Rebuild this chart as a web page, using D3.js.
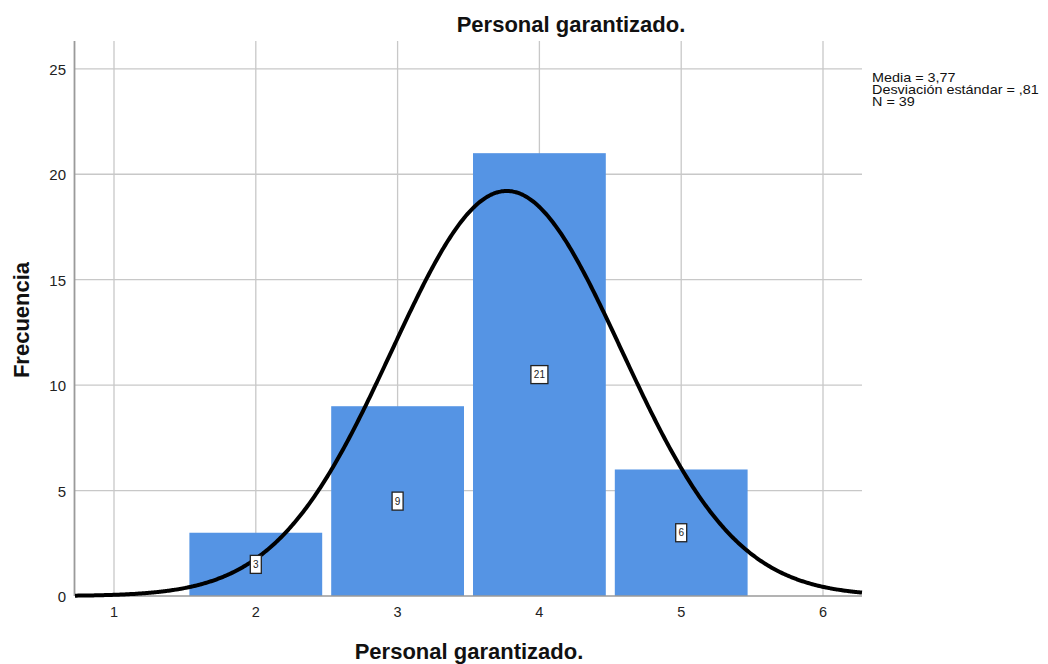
<!DOCTYPE html>
<html><head><meta charset="utf-8">
<script src="https://cdn.jsdelivr.net/npm/d3@7"></script>
<style>body{margin:0;background:#fff}svg{display:block}text{font-family:"Liberation Sans",Arial,sans-serif}</style>
</head><body><svg id="c" width="1048" height="664"></svg>
<script>
const categories = [2, 3, 4, 5];
const frequencies = [3, 9, 21, 6];
const xTicks = [1, 2, 3, 4, 5, 6];
const yTicks = [0, 5, 10, 15, 20, 25];
const stats = {mean: 3.77, sd: 0.81, n: 39};
const statLines = ["Media = 3,77", "Desviación estándar = ,81", "N = 39"];

const svg = d3.select("#c");
const L = 75, R = 862, T = 41, B = 596;
const x = d3.scaleLinear().domain([0.725, 6.275]).range([L, R]);
const y = d3.scaleLinear().domain([0, 26.32]).range([B, T]);

// grid
svg.append("g").selectAll("line").data(yTicks.slice(1)).join("line")
  .attr("x1", L).attr("x2", R).attr("y1", d => y(d)).attr("y2", d => y(d))
  .attr("stroke", "#c8c8c8").attr("stroke-width", 1.3);
svg.append("g").selectAll("line").data(xTicks).join("line")
  .attr("x1", d => x(d)).attr("x2", d => x(d)).attr("y1", T).attr("y2", B)
  .attr("stroke", "#c8c8c8").attr("stroke-width", 1.3);

// bars
const inset = 4.5;
svg.append("g").selectAll("rect").data(categories).join("rect")
  .attr("x", (d) => x(d - 0.5) + inset)
  .attr("width", d => x(d + 0.5) - x(d - 0.5) - 2 * inset)
  .attr("y", (d, i) => y(frequencies[i]))
  .attr("height", (d, i) => B - y(frequencies[i]))
  .attr("fill", "#5594e4");

// axes
svg.append("line").attr("x1", L - 0.5).attr("x2", L - 0.5).attr("y1", T).attr("y2", B)
  .attr("stroke", "#9a9a9a").attr("stroke-width", 1.8);
svg.append("line").attr("x1", L).attr("x2", R).attr("y1", B).attr("y2", B)
  .attr("stroke", "#9a9a9a").attr("stroke-width", 1.5);

svg.append("g").selectAll("text").data(yTicks).join("text")
  .attr("x", 66).attr("y", d => y(d) + 6).attr("text-anchor", "end")
  .attr("font-size", 15).attr("fill", "#222").text(d => d);
svg.append("g").selectAll("text").data(xTicks).join("text")
  .attr("x", d => x(d)).attr("y", 617).attr("text-anchor", "middle")
  .attr("font-size", 14.5).attr("fill", "#222").text(d => d);

// normal curve
const xs = d3.range(0.725, 6.2751, 0.01);
const f = v => stats.n * 1 / (stats.sd * Math.sqrt(2 * Math.PI)) * Math.exp(-0.5 * ((v - stats.mean) / stats.sd) ** 2);
svg.append("path").datum(xs)
  .attr("d", d3.line().x(d => x(d)).y(d => y(f(d))).curve(d3.curveBasis))
  .attr("fill", "none").attr("stroke", "#000").attr("stroke-width", 4);

// value labels
const lab = svg.append("g").selectAll("g").data(categories).join("g")
  .attr("transform", (d, i) => `translate(${x(d)},${y(frequencies[i] / 2)})`);
lab.append("rect")
  .attr("x", (d, i) => frequencies[i] >= 10 ? -8.5 : -5.5)
  .attr("width", (d, i) => frequencies[i] >= 10 ? 17 : 11)
  .attr("y", -9).attr("height", 18)
  .attr("fill", "#fff").attr("stroke", "#222").attr("stroke-width", 1.3);
lab.append("text").attr("text-anchor", "middle").attr("y", 3.5)
  .attr("font-size", 10).attr("fill", "#222").text((d, i) => frequencies[i]);

// titles
svg.append("text").attr("x", 571).attr("y", 32).attr("text-anchor", "middle")
  .attr("font-size", 22).attr("font-weight", "bold").attr("fill", "#111").text("Personal garantizado.");
svg.append("text").attr("x", 469).attr("y", 659).attr("text-anchor", "middle")
  .attr("font-size", 22).attr("font-weight", "bold").attr("fill", "#111").text("Personal garantizado.");
svg.append("text").attr("transform", "translate(29,320) rotate(-90)").attr("text-anchor", "middle")
  .attr("font-size", 22).attr("font-weight", "bold").attr("fill", "#111").text("Frecuencia");

// stats legend
svg.append("g").selectAll("text").data(statLines).join("text")
  .attr("transform", (d, i) => `translate(872,${82 + i * 12}) scale(1.2,1)`)
  .attr("font-size", 12).attr("fill", "#111").text(d => d);
</script></body></html>
